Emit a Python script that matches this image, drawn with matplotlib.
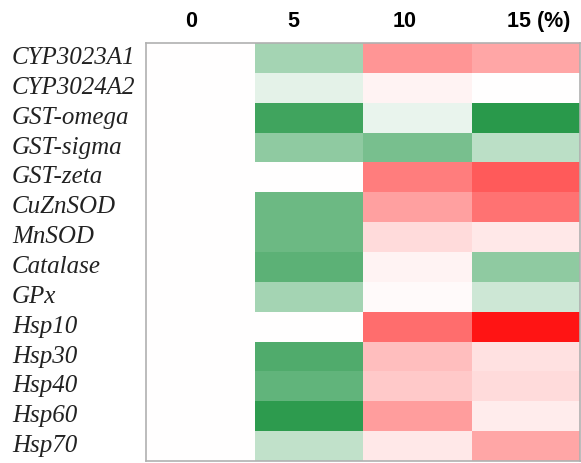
import matplotlib.pyplot as plt
import numpy as np
from matplotlib.colors import LinearSegmentedColormap

genes = ["CYP3023A1", "CYP3024A2", "GST-omega", "GST-sigma", "GST-zeta",
         "CuZnSOD", "MnSOD", "Catalase", "GPx", "Hsp10",
         "Hsp30", "Hsp40", "Hsp60", "Hsp70"]
doses = ["0", "5", "10", "15 (%)"]

# relative change per dose (negative = green, positive = red)
dose_0 = [0] * 14
dose_5 = [-0.40, -0.12, -0.85, -0.50, 0.0, -0.65, -0.65, -0.72, -0.40, 0.0,
          -0.78, -0.70, -0.93, -0.28]
dose_10 = [0.45, 0.05, -0.10, -0.60, 0.55, 0.40, 0.15, 0.05, 0.02, 0.62,
           0.28, 0.23, 0.42, 0.10]
dose_15 = [0.38, 0.0, -0.95, -0.30, 0.70, 0.60, 0.10, -0.50, -0.22, 1.0,
           0.13, 0.15, 0.08, 0.38]

data = np.array([dose_0, dose_5, dose_10, dose_15]).T

cmap = LinearSegmentedColormap.from_list(
    "gwr", [(0.12, 0.58, 0.26), (1, 1, 1), (1.0, 0.08, 0.08)])

fig = plt.figure(figsize=(5.81, 4.63), dpi=100)
ax = fig.add_axes([146 / 581, 2 / 463, 434 / 581, 418 / 463])
ax.pcolormesh(np.arange(5), np.arange(15), data, cmap=cmap, vmin=-1, vmax=1)
ax.set_xlim(0, 4)
ax.set_ylim(14, 0)
ax.set_xticks([])
ax.set_yticks([])
for s in ax.spines.values():
    s.set_color("#b0b0b0")
    s.set_linewidth(1.2)

# gene names on the left
for i, g in enumerate(genes):
    fig.text(12 / 581, 1 - (43 + 29.86 * (i + 0.5)) / 463, g,
             family="Liberation Serif", style="italic", fontsize=18,
             color="#222222", ha="left", va="center")

# dose labels on top (not centred on the columns in the original)
label_x = [0.42, 1.36, 2.38, 3.62]
for x, d in zip(label_x, doses):
    ax.text(x, -0.73, d, family="Liberation Sans", weight="bold",
            fontsize=15.5, ha="center", va="center")

fig.savefig("out.png", dpi=100)
